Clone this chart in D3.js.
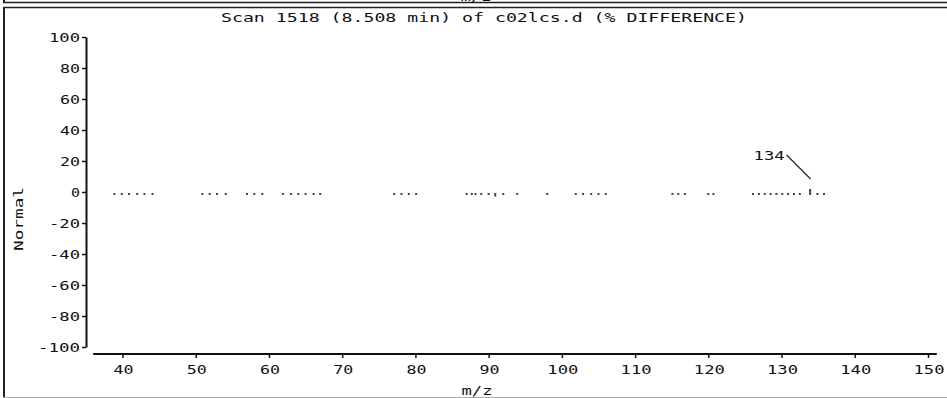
<!DOCTYPE html>
<html><head><meta charset="utf-8">
<script src="https://cdn.jsdelivr.net/npm/d3@7"></script>
<style>html,body{margin:0;padding:0;background:#fff;}svg{display:block;}</style>
</head><body>
<div id="chart"></div>
<script>
const masses = [38.9,39.9,40.9,42.0,43.0,44.1,
  50.9,51.9,52.9,54.1,
  57.0,58.0,59.1,
  61.9,63.0,64.0,65.0,66.1,67.0,
  77.1,78.1,79.1,80.1,
  87.0,87.7,88.2,89.0,90.0,90.9,92.0,93.9,
  98.0,
  101.9,102.9,104.0,105.0,106.0,
  115.1,115.9,116.8,
  120.0,120.7,
  126.1,126.9,127.7,128.5,129.3,130.1,130.9,131.7,132.5,133.9,134.9,135.8];
const diffs = masses.map(m => m === 90.9 ? -1.0 : (m === 133.9 ? 2.6 : 0));
const xTicks = [40,50,60,70,80,90,100,110,120,130,140,150];
const yTicks = [100,80,60,40,20,0,-20,-40,-60,-80,-100];
const annotations = [{mz:133.9, label:"134"}];
const title = "Scan 1518 (8.508 min) of c02lcs.d (% DIFFERENCE)";

const W = 947, H = 398;
const svg = d3.select("#chart").append("svg").attr("width", W).attr("height", H);
const FONT = "'DejaVu Sans Mono', 'Liberation Mono', monospace";
const CH = 11; // char pitch of the pixel font

function txt(sel, s, x, y, anchor, fs) {
  const n = s.length;
  const len = n * CH - 2;
  const t = sel.append("text").attr("x", x).attr("y", y)
    .attr("font-family", FONT).attr("font-size", fs || 13).attr("fill", "#111")
    .attr("text-anchor", anchor || "start")
    .attr("textLength", len).attr("lengthAdjust", "spacingAndGlyphs")
    .text(s);
  return t;
}

// frame remnants
svg.append("line").attr("x1", 3).attr("x2", W).attr("y1", 2.5).attr("y2", 2.5).attr("stroke", "#222").attr("stroke-width", 1.5);
svg.append("line").attr("x1", 4).attr("x2", 4).attr("y1", 0).attr("y2", 3).attr("stroke", "#222").attr("stroke-width", 2);
svg.append("line").attr("x1", 3).attr("x2", W).attr("y1", 7.5).attr("y2", 7.5).attr("stroke", "#222").attr("stroke-width", 1.5);
svg.append("line").attr("x1", 4).attr("x2", 4).attr("y1", 7).attr("y2", H).attr("stroke", "#222").attr("stroke-width", 2);
svg.append("line").attr("x1", 3).attr("x2", W).attr("y1", 397.5).attr("y2", 397.5).attr("stroke", "#aaa").attr("stroke-width", 1);
// clipped label from the panel above
txt(svg, "m/z", 476, 1, "middle");

const x = d3.scaleLinear().domain([40, 150]).range([122.5, 928]);
const y = d3.scaleLinear().domain([-100, 100]).range([347, 37]);

// title
txt(svg, title, 484, 22, "middle");

// y axis
const yAxis = svg.append("g").attr("transform", "translate(86,0)")
  .call(d3.axisLeft(y).tickValues(yTicks).tickSize(4).tickSizeOuter(0));
yAxis.select(".domain").attr("stroke", "#111").attr("stroke-width", 2);
yAxis.selectAll(".tick line").attr("stroke", "#111").attr("stroke-width", 1.5);
yAxis.selectAll(".tick text").remove();
yTicks.forEach(v => txt(yAxis, String(v), -6, y(v) + 5, "end"));

// x axis
const xAxis = svg.append("g").attr("transform", "translate(0,354)")
  .call(d3.axisBottom(x).tickValues(xTicks).tickSize(4).tickSizeOuter(0));
xAxis.select(".domain").attr("d", "M" + x(36) + ",0H" + x(151.2)).attr("stroke", "#111").attr("stroke-width", 2);
xAxis.selectAll(".tick line").attr("stroke", "#111").attr("stroke-width", 1.5);
xAxis.selectAll(".tick text").remove();
xTicks.forEach(v => txt(xAxis, String(v), x(v) + 1, 20, "middle"));

// axis titles
txt(svg, "m/z", 477, 395, "middle");
const yl = svg.append("g").attr("transform", "translate(23,219) rotate(-90)");
txt(yl, "Normal", 0, 0, "middle");

// bars / dots
const y0 = y(0) + 1;
svg.append("g").selectAll("rect").data(masses).join("rect")
  .attr("x", (m) => x(m) - 1)
  .attr("y", (m, i) => Math.min(y0, y(diffs[i]) + 1))
  .attr("width", 2)
  .attr("height", (m, i) => Math.abs(y(diffs[i]) - y(0)) + 2)
  .attr("fill", "#444");

// annotation
annotations.forEach(a => {
  const i = masses.indexOf(a.mz);
  const px = x(a.mz) + 0.5, py = y(diffs[i]) - 9;
  svg.append("line").attr("x1", px - 24).attr("y1", py - 24).attr("x2", px).attr("y2", py)
    .attr("stroke", "#222").attr("stroke-width", 1.2);
  txt(svg, a.label, px - 26, py - 19, "end");
});
</script>
</body></html>
